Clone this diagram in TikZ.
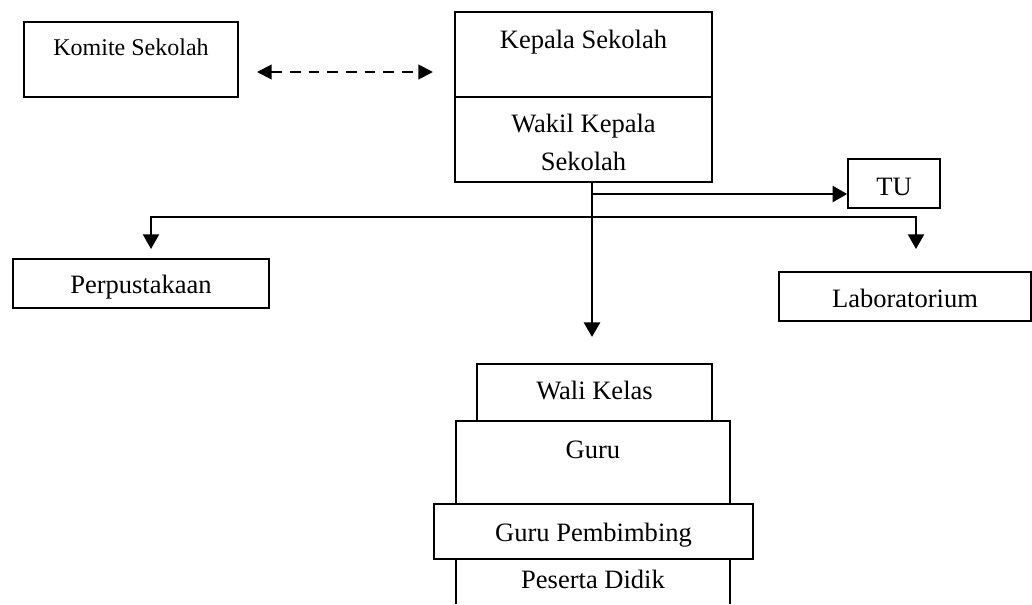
\documentclass[tikz,border=0pt]{standalone}
\usepackage{fontspec}
\setmainfont{Liberation Serif}
\usetikzlibrary{arrows.meta,fit}
\begin{document}
\begin{tikzpicture}[x=0.75pt,y=-0.75pt,
  box/.style={draw=black, line width=1.2pt, rectangle, inner sep=0pt, fit={#1}},
  openbox/.style={rectangle, inner sep=0pt, fit={#1}},
  sideline/.style={draw=black, line width=1.2pt},
  txt/.style={font=\fontsize{19.9}{28.5}\selectfont, inner sep=0pt, anchor=base, align=center},
  smalltxt/.style={txt, font=\fontsize{18}{24}\selectfont},
  arr/.style={line width=2pt, -{Triangle[length=11pt,width=12pt]}},
  barr/.style={line width=1.6pt, {Triangle[length=11pt,width=12pt]}-{Triangle[length=11pt,width=12pt]}},
  trunk/.style={line width=2.2pt, -{Triangle[length=11pt,width=12pt]}},
  darr/.style={line width=1.5pt, dash pattern=on 8pt off 6pt, {Triangle[length=11pt,width=11pt]}-{Triangle[length=11pt,width=11pt]}}
]
\useasboundingbox (0,0) rectangle (1032,604);

% boxes
\node[box={(24,22) (238,97)}] (komite) {};
\node[box={(455,12) (712,97)}] (kepala) {};
\node[box={(455,97) (712,182)}] (wakil) {};
\node[box={(848,159) (940,208)}] (tu) {};
\node[box={(13,259) (269,308)}] (perpus) {};
\node[box={(779,272) (1031,321)}] (lab) {};
\node[box={(477,364) (712,421)}] (wali) {};
\node[box={(456,421) (730,504)}] (guru) {};
\node[box={(434,504) (753,559)}] (gp) {};
\node[openbox={(456,559) (730,604)}] (peserta) {};
\draw[sideline] (peserta.south west) -- (peserta.north west)
                (peserta.north east) -- (peserta.south east);

% texts
\node[smalltxt] (komiteT) at (131,55) {Komite Sekolah};
\node[txt] (kepalaT) at (583.5,48) {Kepala Sekolah};
\node[txt, anchor=north] (wakilT) at (583.5,114) {Wakil Kepala\\Sekolah};
\node[txt] (tuT) at (894,195) {TU};
\node[txt] (perpusT) at (141,293) {Perpustakaan};
\node[txt] (labT) at (905,307) {Laboratorium};
\node[txt] (waliT) at (594.5,399) {Wali Kelas};
\node[txt] (guruT) at (593,458) {Guru};
\node[txt] (gpT) at (593.5,541) {Guru Pembimbing};
\node[txt] (pesertaT) at (593,588) {Peserta Didik};

% connectors
\coordinate (dL) at (257,72);
\coordinate (dR) at (433,72);
\draw[darr] (dL) -- (dR);

\coordinate (trunkEnd) at (592,337);
\draw[trunk] (wakil.south -| trunkEnd) -- (trunkEnd);

\coordinate (tuStart) at (592,194);
\draw[arr] (tuStart) -- (tuStart -| tu.west);

\coordinate (pArrow) at (151,249);
\coordinate (lArrow) at (916,249);
\coordinate (bus) at (0,217);
\draw[barr] (pArrow) |- (bus -| lArrow) -- (lArrow);
\end{tikzpicture}
\end{document}
